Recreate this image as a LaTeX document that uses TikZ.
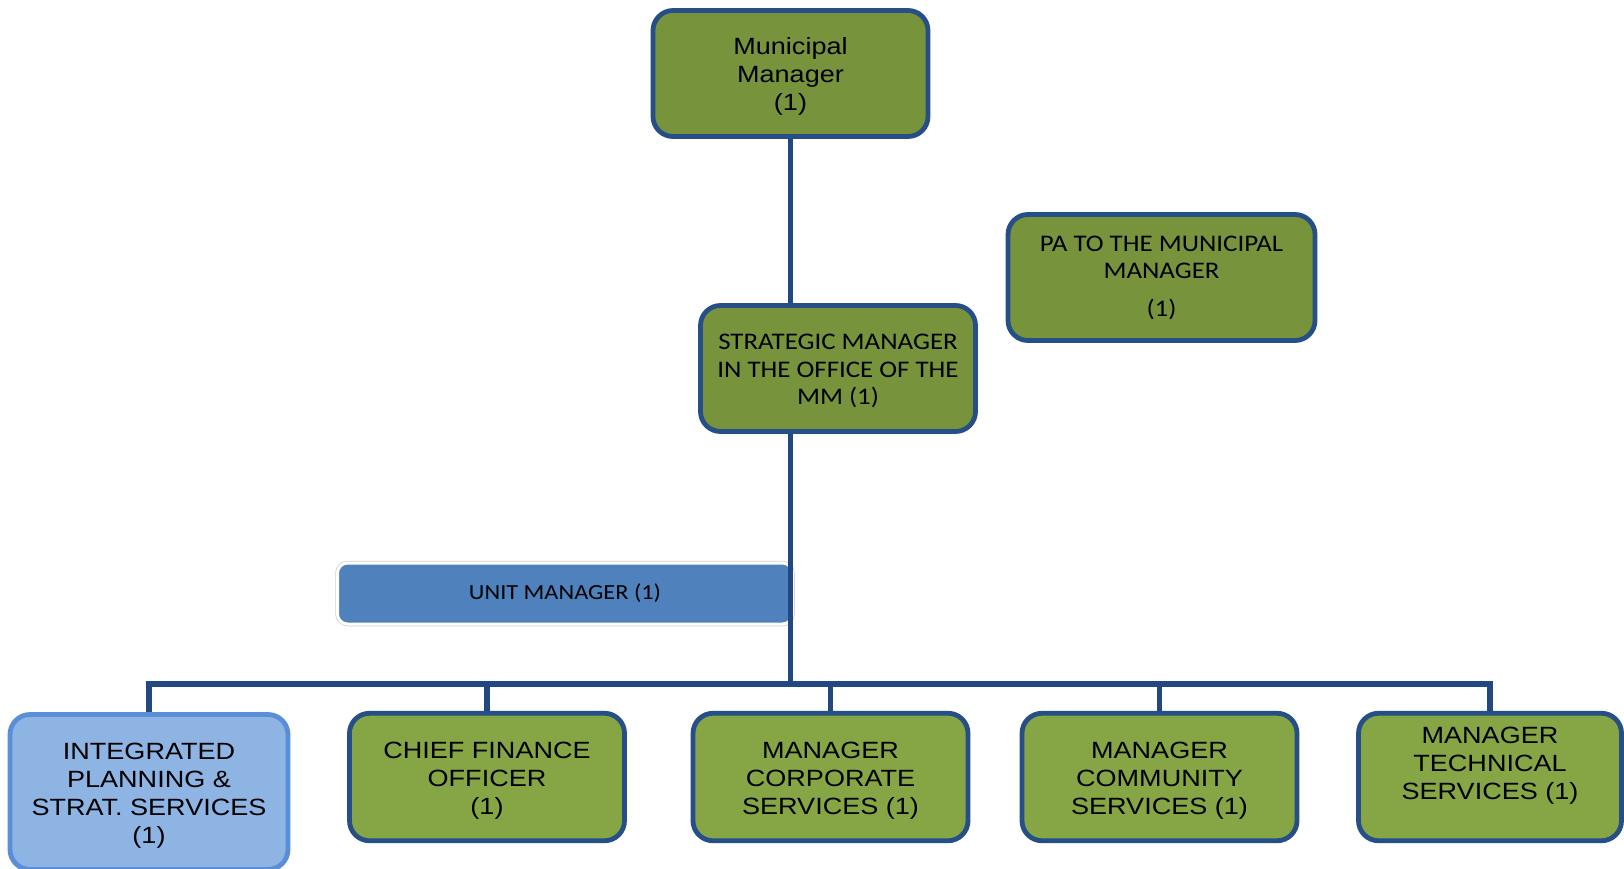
\documentclass[tikz,border=0pt]{standalone}
\usepackage{fontspec}
\newfontfamily\arialf[FakeStretch=1.15]{Liberation Sans}
\newfontfamily\calf[FakeStretch=1.13]{Carlito}
\definecolor{bordblue}{HTML}{254F86}
\definecolor{lineblue}{HTML}{21497F}
\definecolor{topgreen}{HTML}{77933C}
\definecolor{botgreen}{HTML}{86A544}
\definecolor{ipsfill}{HTML}{8DB4E3}
\definecolor{ipsbord}{HTML}{5A8ED6}
\definecolor{umfill}{HTML}{4F81BD}
\newcommand{\topstrut}{\rule{0pt}{23.5pt}}
\newcommand{\calstrut}{\rule{0pt}{21pt}}
\begin{document}
\begin{tikzpicture}[x=1pt,y=-1pt,
  box/.style={rectangle, rounded corners=20pt, draw=bordblue, line width=4.8pt, align=center, inner sep=0pt, text=black},
  topbox/.style={box, fill=topgreen, minimum width=275pt, minimum height=126pt},
  arialtext/.style={font=\arialf\fontsize{23.5}{28}\selectfont},
  caltext/.style={font=\calf\fontsize{23.8}{27.5}\selectfont},
  botbox/.style={box, fill=botgreen, arialtext, minimum width=275pt, minimum height=127.5pt},
  ipsbox/.style={box, fill=ipsfill, draw=ipsbord, arialtext, minimum width=278pt, minimum height=155pt},
  umbox/.style={rectangle, rounded corners=10pt, fill=umfill, draw=white, line width=3pt,
    preaction={draw=black!18, line width=4.5pt}, minimum width=455pt, minimum height=61pt,
    inner sep=0pt, font=\calf\fontsize{21.5}{25}\selectfont, text=black},
  conn/.style={draw=lineblue, line width=5.5pt}]
\useasboundingbox (0,0) rectangle (1624,868);
\fill[white] (0,0) rectangle (1624,868);

\node[topbox, arialtext] (mm) at (790.5,73.5) {\topstrut Municipal\\Manager\\(1)};
\node[topbox, caltext] (sm) at (838,368.5) {\calstrut STRATEGIC MANAGER\\IN THE OFFICE OF THE\\MM (1)};
\node[topbox, caltext, minimum width=307pt] (pa) at (1161.5,277.5) {PA TO THE MUNICIPAL\\MANAGER\\[10pt](1)};
\node[umbox] (um) at (565,593.5) {UNIT MANAGER (1)};

\node[ipsbox] (ips) at (149,792) {\topstrut INTEGRATED\\PLANNING \&\\STRAT. SERVICES\\(1)};
\node[botbox] (cfo) at (487,777) {\topstrut CHIEF FINANCE\\OFFICER\\(1)};
\node[botbox] (corp) at (830.5,777) {\topstrut MANAGER\\CORPORATE\\SERVICES (1)};
\node[botbox] (comm) at (1159.5,777) {\topstrut MANAGER\\COMMUNITY\\SERVICES (1)};
\node[botbox, minimum width=263pt] (tech) at (1490,777) {MANAGER\\TECHNICAL\\SERVICES (1)\\\mbox{}};

\coordinate (bus) at (0,684);
\draw[conn] (mm.south) -- (mm.south |- sm.north);
\draw[conn] (mm.south |- sm.south) -- (mm.south |- bus);
\draw[conn, line cap=rect] (ips.north |- bus) -- (tech.north |- bus);
\foreach \n in {ips,cfo,corp,comm,tech}
  \draw[conn] (\n.north |- bus) -- (\n.north);
\end{tikzpicture}
\end{document}
